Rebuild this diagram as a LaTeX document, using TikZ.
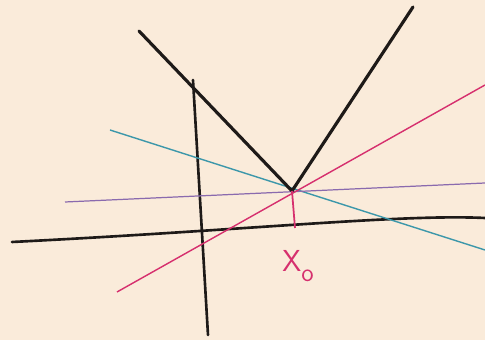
\documentclass[tikz,border=0pt]{standalone}
\usepackage{tikz}
\usetikzlibrary{calc}
\definecolor{paper}{HTML}{FAEBDA}
\definecolor{ink}{HTML}{1E1A18}
\definecolor{tcyan}{HTML}{3C97AA}
\definecolor{tpurple}{HTML}{8A6AAE}
\definecolor{tmag}{HTML}{D6306E}
\tikzset{
  axisln/.style  = {draw=ink, line width=1.5pt, line cap=round},
  graphln/.style = {draw=ink, line width=1.8pt, line cap=round},
  tancyan/.style = {draw=tcyan, line width=0.8pt},
  tanpurp/.style = {draw=tpurple, line width=0.7pt},
  tanmag/.style  = {draw=tmag, line width=0.8pt},
  ptlab/.style   = {text=tmag, font=\LARGE\sffamily, inner sep=0pt},
}
\begin{document}
\begin{tikzpicture}[x=0.02cm,y=-0.02cm]
  \fill[paper] (0,0) rectangle (485,340);
  \useasboundingbox (0,0) rectangle (485,340);

  % axes
  \coordinate (xl) at (12,242);
  \coordinate (xr) at (485,218);
  \coordinate (yt) at (193,80);
  \coordinate (yb) at (208,335);
  \draw[axisln] (xl) .. controls (250,230) and (400,214) .. (xr);
  \draw[axisln] (yt) -- (yb);

  % tangent lines through the kink
  \coordinate (cl) at (110,130);
  \coordinate (cr) at (485,250);
  \coordinate (pl) at (65,202);
  \coordinate (pr) at (485,183);
  \coordinate (ml) at (117,292);
  \coordinate (mr) at (485,85);
  \draw[tancyan] (cl) -- (cr);
  \draw[tanpurp] (pl) -- (pr);
  \draw[tanmag]  (ml) -- (mr);

  % the function
  \coordinate (kink) at (292,191);
  \coordinate (ftl) at (139,31);
  \coordinate (ftr) at (413,7);
  \draw[graphln] (ftl) -- (kink) -- (ftr);

  % x_0
  \coordinate (tick) at (295,228);
  \draw[tanmag, line width=1pt] (kink) -- (tick);
  \node[ptlab] (xo) at (298,266) {X\raisebox{-6pt}{\Large o}};
\end{tikzpicture}
\end{document}
